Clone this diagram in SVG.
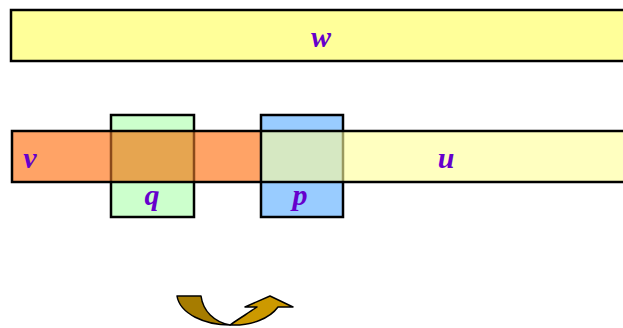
<svg xmlns="http://www.w3.org/2000/svg" width="623" height="328" viewBox="0 0 623 328">
<style>
.lbl{font-family:"Liberation Serif","DejaVu Serif",serif;font-style:italic;font-weight:bold;font-size:30px;fill:#6600CC;text-anchor:middle}
.edge{stroke:#000;stroke-width:2.5;fill:none}
</style>
<rect width="623" height="328" fill="#fff"/>
<g id="w">
<rect x="11" y="10" width="616" height="51" fill="#FFFF99" class="edge" style="fill:#FFFF99"/>
<text class="lbl" x="321" y="47">w</text>
</g>
<g id="q">
<rect x="111" y="115" width="83" height="102" fill="#CCFFCC" stroke="#000" stroke-width="2.5"/>
</g>
<g id="p">
<rect x="261" y="115" width="82" height="102" fill="#99CCFF" stroke="#000" stroke-width="2.5"/>
</g>
<g id="v">
<rect x="12" y="131" width="249" height="51" fill="#FFA366"/>
<rect x="111" y="131" width="83" height="51" fill="#E6A550"/>
<line x1="111" y1="131" x2="111" y2="182" stroke="#8B4A1A" stroke-width="2.5"/>
<line x1="194" y1="131" x2="194" y2="182" stroke="#8B4A1A" stroke-width="2.5"/>
<text class="lbl" x="30" y="168">v</text>
</g>
<g id="u">
<rect x="261" y="131" width="366" height="51" fill="#FFFFC0"/>
<rect x="261" y="131" width="82" height="51" fill="#D6E8C2"/>
<line x1="343" y1="131" x2="343" y2="182" stroke="#99995E" stroke-width="2.5"/>
<text class="lbl" x="446" y="168">u</text>
</g>
<g id="bar-outline">
<rect x="12" y="131" width="615" height="51" class="edge"/>
<line x1="261" y1="131" x2="261" y2="182" stroke="#000" stroke-width="2.5"/>
</g>
<text class="lbl" x="152" y="205">q</text>
<text class="lbl" x="300" y="205">p</text>
<g id="connectors">
<path d="M177,296 L201,296 C203,311 214,322 230,325 C205,325 180,314 177,296 Z" fill="#A67C00" stroke="#000" stroke-width="1.5" stroke-linejoin="round"/>
<path d="M230,325 C240,318 250,312 257,307 L245,307 L270,296 L293,307 L278,307 C270,318 252,326 230,325 Z" fill="#CC9900" stroke="#000" stroke-width="1.5" stroke-linejoin="round"/>
</g>
</svg>
